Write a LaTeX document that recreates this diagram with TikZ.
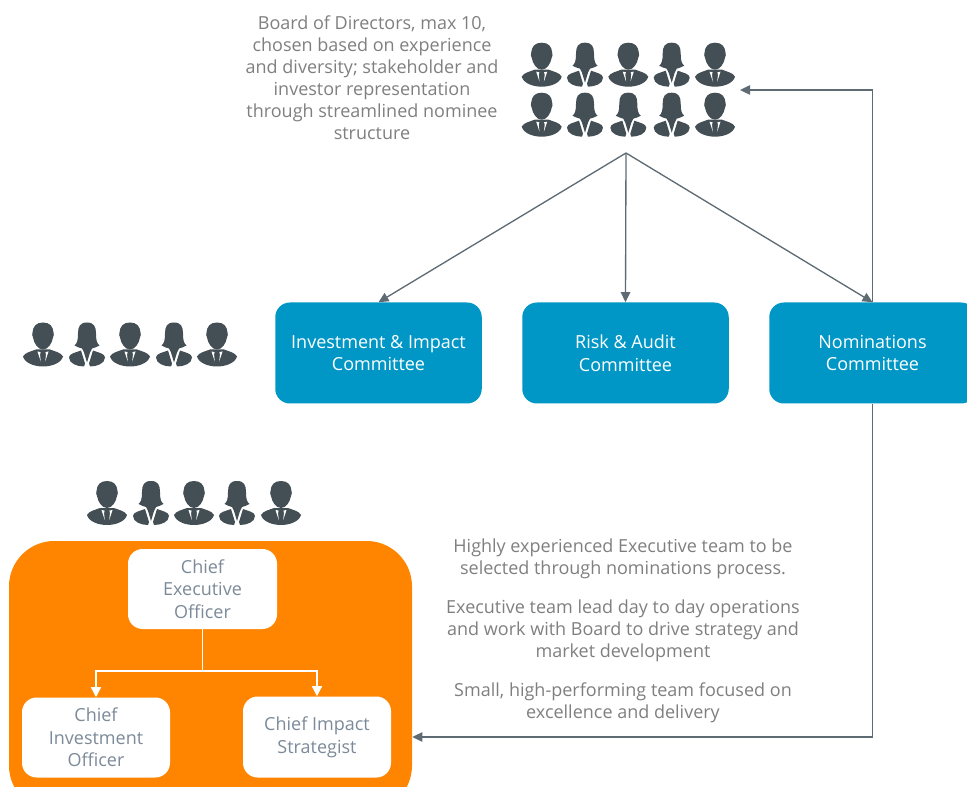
\documentclass[tikz,border=0pt]{standalone}
\usepackage{fontspec}
\setmainfont{Open Sans}
\definecolor{icon}{HTML}{434F55}
\definecolor{txt}{HTML}{7F7F7F}
\definecolor{boxtxt}{HTML}{7C8A99}
\definecolor{teal}{HTML}{0097C6}
\definecolor{orng}{HTML}{FF8500}
\definecolor{conn}{HTML}{5F6B73}
\usetikzlibrary{arrows.meta}
\tikzset{
  x=0.75pt,y=-0.75pt,
  man/.pic={
    \fill[icon] (0,0) .. controls (-7,0) and (-10,4) .. (-10.5,10) .. controls (-11,11) and (-11,14) .. (-10,15)
      .. controls (-9,21) and (-5,27) .. (0,27) .. controls (5,27) and (9,21) .. (10,15)
      .. controls (11,14) and (11,11) .. (10.5,10) .. controls (10,4) and (7,0) .. (0,0) -- cycle;
    \fill[icon] (-20,34) .. controls (-18,30) and (-12,29) .. (-7,27) -- (7,27) .. controls (12,29) and (18,30) .. (20,34)
      .. controls (18,41) and (8,44) .. (0,44) .. controls (-8,44) and (-18,41) .. (-20,34) -- cycle;
    \fill[white] (-5.5,29) -- (-2.4,29.6) -- (-3,32) -- (-2.2,39) -- cycle;
    \fill[white] (5.5,29) -- (2.4,29.6) -- (3,32) -- (2.2,39) -- cycle;
  },
  woman/.pic={
    \fill[icon] (0,0) .. controls (-7,0) and (-9,4) .. (-9,11) .. controls (-9,18) and (-10,21) .. (-12.5,23)
      .. controls (-10,25) and (-7,25) .. (-5,26) -- (-3,30) -- (0,40) -- (3,30) -- (5,26)
      .. controls (7,25) and (10,25) .. (12.5,23) .. controls (10,21) and (9,18) .. (9,11)
      .. controls (9,4) and (7,0) .. (0,0) -- cycle;
    \fill[icon] (-6,28) -- (-2,41) -- (-3,44) .. controls (-10,44) and (-18,41) .. (-18,35) .. controls (-18,31) and (-11,30) .. (-6,28) -- cycle;
    \fill[icon] (6,28) -- (2,41) -- (3,44) .. controls (10,44) and (18,41) .. (18,35) .. controls (18,31) and (11,30) .. (6,28) -- cycle;
  },
  bluebox/.style={fill=teal,rounded corners=11pt,inner sep=0pt,text=white,align=center,
    font=\fontsize{13.5pt}{17pt}\selectfont},
  whitebox/.style={fill=white,rounded corners=11pt,inner sep=0pt,text=boxtxt,align=center,
    font=\fontsize{13.5pt}{17pt}\selectfont},
  note/.style={text=txt,align=center,inner sep=0pt,font=\fontsize{13.5pt}{16.5pt}\selectfont},
  link/.style={conn,line width=1pt,-{Triangle[length=7.5pt,width=7pt]}},
  wlink/.style={white,line width=1pt,-{Triangle[length=7.5pt,width=7.5pt]}},
}
\begin{document}
\begin{tikzpicture}
\useasboundingbox (0,0) rectangle (967,787);
\clip (0,0) rectangle (967,787);
% people
\foreach \px/\kind in {541.7/man,585/woman,628.3/man,671.7/woman,715/man}
  \pic at (\px,42.7) {\kind};
\foreach \px/\kind in {541.7/man,585/woman,628.3/woman,671.7/woman,715/man}
  \pic at (\px,92.7) {\kind};
\foreach \px/\kind in {43/man,87/woman,130/man,174/woman,217/man}
  \pic at (\px,322.5) {\kind};
\foreach \px/\kind in {107/man,151/woman,194/man,237/woman,281/man}
  \pic at (\px,481) {\kind};
% board text
\node[note] (boardtext) at (372,78) {Board of Directors, max 10,\\chosen based on experience\\and diversity; stakeholder and\\investor representation\\through streamlined nominee\\structure};
\coordinate (board) at (626,153);
\coordinate (boardin) at (740,90);
% committees
\node[bluebox,minimum width=206.5*0.75pt,minimum height=101*0.75pt] (inv) at (378.5,353) {Investment \& Impact\\Committee};
\node[bluebox,minimum width=206.5*0.75pt,minimum height=101*0.75pt] (risk) at (625.5,353) {Risk \& Audit\\Committee};
\node[bluebox,minimum width=206.5*0.75pt,minimum height=101*0.75pt] (nom) at (872.5,353) {Nominations\\Committee};
% executive
\node[fill=orng,rounded corners=34pt,minimum width=403*0.75pt,minimum height=270*0.75pt,inner sep=0pt] (exec) at (210.5,676) {};
\node[whitebox,minimum width=149*0.75pt,minimum height=80*0.75pt] (ceo) at (202.5,589) {Chief\\Executive\\Officer};
\node[whitebox,minimum width=148*0.75pt,minimum height=80*0.75pt] (cio) at (96,737.5) {Chief\\Investment\\Officer};
\node[whitebox,minimum width=148*0.75pt,minimum height=81*0.75pt] (cis) at (317,737) {Chief Impact\\Strategist};
\node[note] (t1) at (623,558.5) {Highly experienced Executive team to be\\selected through nominations process.};
\node[note] (t2) at (623,631) {Executive team lead day to day operations\\and work with Board to drive strategy and\\market development};
\node[note] (t3) at (623,703) {Small, high-performing team focused on\\excellence and delivery};
% connectors
\draw[link] (board) -- (inv.north);
\draw[link] (board) -- (risk.north);
\draw[link] (board) -- (nom.north);
\draw[link] (nom.north) |- (boardin);
\draw[link] (nom.south) |- (exec.east |- 0,737);
\coordinate (split) at (ceo.south |- 0,671);
\draw[white,line width=1pt] (ceo.south) -- (split);
\draw[wlink] (split) -| (cio.north);
\draw[wlink] (split) -| (cis.north);
\end{tikzpicture}
\end{document}
